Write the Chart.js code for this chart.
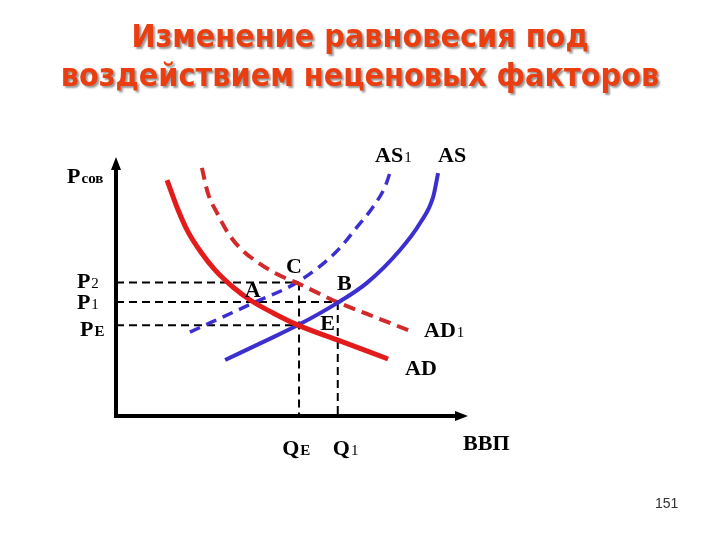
<!DOCTYPE html>
<html><head><meta charset="utf-8">
<script src="https://cdn.jsdelivr.net/npm/chart.js@4.4.1/dist/chart.umd.min.js"></script>
<style>html,body{margin:0;padding:0;background:#fff}#wrap{width:720px;height:540px}</style>
</head><body><div id="wrap"><canvas id="c" width="720" height="540"></canvas></div>
<script>
// Conceptual units: quantity (ВВП) 0..100, price level 0..100
const titleLines = ["Изменение равновесия под", "воздействием неценовых факторов"];
const QE = 52, Q1 = 63;
const PE = 35, P1 = 44, P2 = 51.5;
const adX  = [14.5, 17.3, 20.2, 23.9, 28.1, 33.2, 38.1, 44.6, 51.7, 63.6, 77.3];
const adY  = [91.1, 80.7, 71.8, 63.7, 56.4, 49.8, 44.8, 39.8, 35.1, 29.0, 22.0];
const ad1X = [24.4, 26.1, 28.7, 31.8, 35.2, 40.1, 45.7, 51.7, 62.8, 71.3, 84.4];
const ad1Y = [95.8, 86.1, 78.4, 70.7, 64.9, 59.5, 54.8, 51.2, 44.0, 39.4, 32.4];
const asX  = [31.0, 42.9, 51.7, 62.8, 71.3, 80.7, 86.4, 90.1, 91.5];
const asY  = [21.6, 29.3, 35.1, 43.6, 51.4, 64.1, 74.5, 84.6, 93.8];
const as1X = [21.0, 38.9, 51.7, 62.5, 68.5, 73.0, 76.4, 77.8];
const as1Y = [32.4, 43.6, 51.8, 63.3, 73.0, 80.7, 88.4, 93.8];

const pts = (xs, ys) => xs.map((x, i) => ({x, y: ys[i]}));
const guide = (a, b) => ({data: [a, b], borderColor: '#000', borderWidth: 2, borderDash: [8, 5], pointRadius: 0, order: 10, tension: 0});

const curve = (d, color, w, dash, ord) => ({data: d, borderColor: color, borderWidth: w, borderDash: dash, pointRadius: 0,
  cubicInterpolationMode: 'monotone', order: ord, borderCapStyle: 'butt'});

const labels = [
  // text, sub, x, y (data units)
  ["AS", "1", 73.6, 98.1],
  ["AS", "", 91.5, 98.1],
  ["P", "сов", -13.9, 90.0],
  ["P", "2", -11.1, 49.6],
  ["P", "1", -11.1, 41.3],
  ["P", "E", -10.2, 30.9],
  ["A", "", 36.6, 45.9],
  ["C", "", 48.3, 55.2],
  ["B", "", 62.8, 48.6],
  ["E", "", 58.0, 33.2],
  ["AD", "1", 87.5, 30.5],
  ["AD", "", 82.1, 15.8],
  ["Q", "E", 47.2, -15.1],
  ["Q", "1", 61.6, -15.1],
  ["ВВП", "", 98.6, -13.1]
];

const deco = {
  id: 'deco',
  beforeDatasetsDraw(chart) {
    const ctx = chart.ctx, sx = chart.scales.x, sy = chart.scales.y;
    const x0 = sx.getPixelForValue(0), y0 = sy.getPixelForValue(0);
    const xt = sx.getPixelForValue(100), yt = sy.getPixelForValue(100);
    ctx.save();
    ctx.strokeStyle = '#000'; ctx.fillStyle = '#000'; ctx.lineWidth = 4; ctx.lineCap = 'butt';
    ctx.beginPath(); ctx.moveTo(x0, y0 + 2); ctx.lineTo(x0, yt + 10); ctx.stroke();
    ctx.beginPath(); ctx.moveTo(x0 - 2, y0); ctx.lineTo(xt - 10, y0); ctx.stroke();
    ctx.beginPath(); ctx.moveTo(x0, yt); ctx.lineTo(x0 - 5, yt + 13); ctx.lineTo(x0 + 5, yt + 13); ctx.closePath(); ctx.fill();
    ctx.beginPath(); ctx.moveTo(xt, y0); ctx.lineTo(xt - 13, y0 - 5); ctx.lineTo(xt - 13, y0 + 5); ctx.closePath(); ctx.fill();
    ctx.restore();
  },
  afterDraw(chart) {
    const ctx = chart.ctx, sx = chart.scales.x, sy = chart.scales.y;
    ctx.save();
    // title
    ctx.font = 'bold 32px "DejaVu Sans Condensed", "DejaVu Sans"';
    ctx.textAlign = 'center'; ctx.textBaseline = 'alphabetic';
    ctx.shadowColor = 'rgba(110,110,110,0.7)'; ctx.shadowOffsetX = 2; ctx.shadowOffsetY = 2; ctx.shadowBlur = 2;
    ctx.fillStyle = '#ea3e10';
    ctx.fillText(titleLines[0], 360, 47);
    ctx.fillText(titleLines[1], 360, 86);
    ctx.shadowColor = 'transparent';
    // labels
    ctx.textAlign = 'left'; ctx.fillStyle = '#000';
    for (const [t, s, x, y] of labels) {
      const px = sx.getPixelForValue(x), py = sy.getPixelForValue(y);
      ctx.font = 'bold 22px "Liberation Serif"';
      ctx.fillText(t, px, py);
      if (s) {
        const w = ctx.measureText(t).width;
        ctx.font = (s === 'сов' || s === 'E' ? 'bold ' : '') + '15px "Liberation Serif"';
        ctx.fillText(s, px + w + 1, py);
      }
    }
    ctx.font = '14px "Liberation Sans"'; ctx.fillStyle = '#333';
    ctx.fillText("151", 655, 508);
    ctx.restore();
  }
};

new Chart(document.getElementById('c'), {
  type: 'scatter',
  data: {
    datasets: [
      curve(pts(adX, adY), '#e41b1b', 5, [], 1),
      curve(pts(asX, asY), '#3c2fd0', 4, [], 2),
      curve(pts(ad1X, ad1Y), '#d22a2a', 4, [12, 7], 3),
      curve(pts(as1X, as1Y), '#3c2fd0', 3.5, [11, 7], 4),
      guide({x: 0, y: P2}, {x: QE, y: P2}),
      guide({x: 0, y: P1}, {x: Q1, y: P1}),
      guide({x: 0, y: PE}, {x: QE, y: PE}),
      guide({x: QE, y: P2}, {x: QE, y: 0}),
      guide({x: Q1, y: P1}, {x: Q1, y: 0})
    ].map(d => Object.assign({showLine: true, fill: false}, d))
  },
  options: {
    responsive: false, animation: false, devicePixelRatio: 1,
    layout: {padding: {left: 116, right: 252, top: 157, bottom: 124}},
    scales: {
      x: {type: 'linear', min: 0, max: 100, display: false},
      y: {type: 'linear', min: 0, max: 100, display: false}
    },
    plugins: {legend: {display: false}, tooltip: {enabled: false}},
    elements: {line: {borderJoinStyle: 'round'}}
  },
  plugins: [deco]
});
</script>
</body></html>
